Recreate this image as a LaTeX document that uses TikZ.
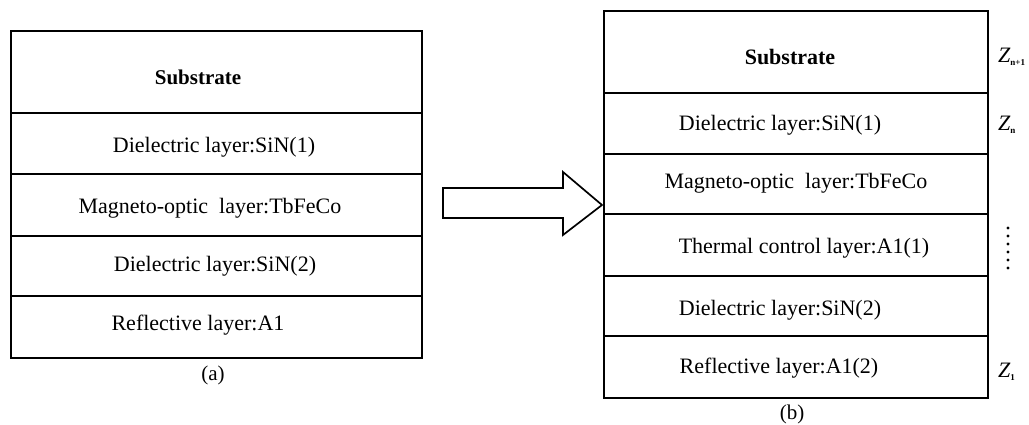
\documentclass[tikz,border=0pt]{standalone}
\usepackage{fontspec}
\setmainfont{Liberation Serif}
\tikzset{
  x=1pt, y=-1pt,
  layer/.style={draw, line width=1.7pt, rectangle, inner sep=0pt, anchor=north west},
  txt/.style={font=\fontsize{22}{26}\selectfont, inner sep=0pt},
  figcap/.style={font=\fontsize{21}{25}\selectfont, inner sep=0pt},
  zlab/.style={font=\fontsize{22}{26}\selectfont, inner sep=0pt, anchor=west},
}
\newcommand{\zsub}[1]{\textsubscript{\upshape\bfseries\fontsize{9}{10}\selectfont #1}}
\begin{document}
\begin{tikzpicture}
\useasboundingbox (0,0) rectangle (1029,425);

% (a) original stack
\node[layer, minimum width=411pt, minimum height=82pt] (a1) at (10,30) {};
\node[layer, minimum width=411pt, minimum height=61pt] (a2) at (10,112) {};
\node[layer, minimum width=411pt, minimum height=62pt] (a3) at (10,173) {};
\node[layer, minimum width=411pt, minimum height=60pt] (a4) at (10,235) {};
\node[layer, minimum width=411pt, minimum height=62pt] (a5) at (10,295) {};
\node[txt, font=\fontsize{21}{25}\selectfont\bfseries] (ta1) at (198,77) {Substrate};
\node[txt] (ta2) at (214,147) {Dielectric layer:SiN(1)};
\node[txt] (ta3) at (210,208) {Magneto-optic\ \ layer:TbFeCo};
\node[txt] (ta4) at (215,266) {Dielectric layer:SiN(2)};
\node[txt] (ta5) at (198,325) {Reflective layer:A1};
\node[figcap] (capa) at (213,375) {(a)};

% (b) modified stack
\node[layer, minimum width=384pt, minimum height=82pt] (b1) at (603,10) {};
\node[layer, minimum width=384pt, minimum height=61pt] (b2) at (603,92) {};
\node[layer, minimum width=384pt, minimum height=60pt] (b3) at (603,153) {};
\node[layer, minimum width=384pt, minimum height=62pt] (b4) at (603,213) {};
\node[layer, minimum width=384pt, minimum height=60pt] (b5) at (603,275) {};
\node[layer, minimum width=384pt, minimum height=62pt] (b6) at (603,335) {};
\node[txt, font=\fontsize{22}{26}\selectfont\bfseries] (tb1) at (790,57) {Substrate};
\node[txt] (tb2) at (780,125) {Dielectric layer:SiN(1)};
\node[txt] (tb3) at (796,183) {Magneto-optic\ \ layer:TbFeCo};
\node[txt] (tb4) at (804,248) {Thermal control layer:A1(1)};
\node[txt] (tb5) at (780,310) {Dielectric layer:SiN(2)};
\node[txt] (tb6) at (779,368) {Reflective layer:A1(2)};
\node[figcap] (capb) at (792,414) {(b)};

% interface labels
\node[zlab] (zn1) at (998,57) {{\itshape Z}\zsub{n+1}};
\node[zlab] (zn) at (998,125) {{\itshape Z}\zsub{n}};
\node[zlab] (z1) at (998,372) {{\itshape Z}\zsub{1}};
\foreach \yy in {228,236,244,252,260,268}
  \fill (1008,\yy) circle (1.6pt);

% block arrow from (a) to (b)
\draw[line width=1.7pt, line join=miter, fill=white]
  (443,188) -- (563,188) -- (563,172) -- (602,205) -- (563,235) -- (563,218) -- (443,218) -- cycle;
\end{tikzpicture}
\end{document}
